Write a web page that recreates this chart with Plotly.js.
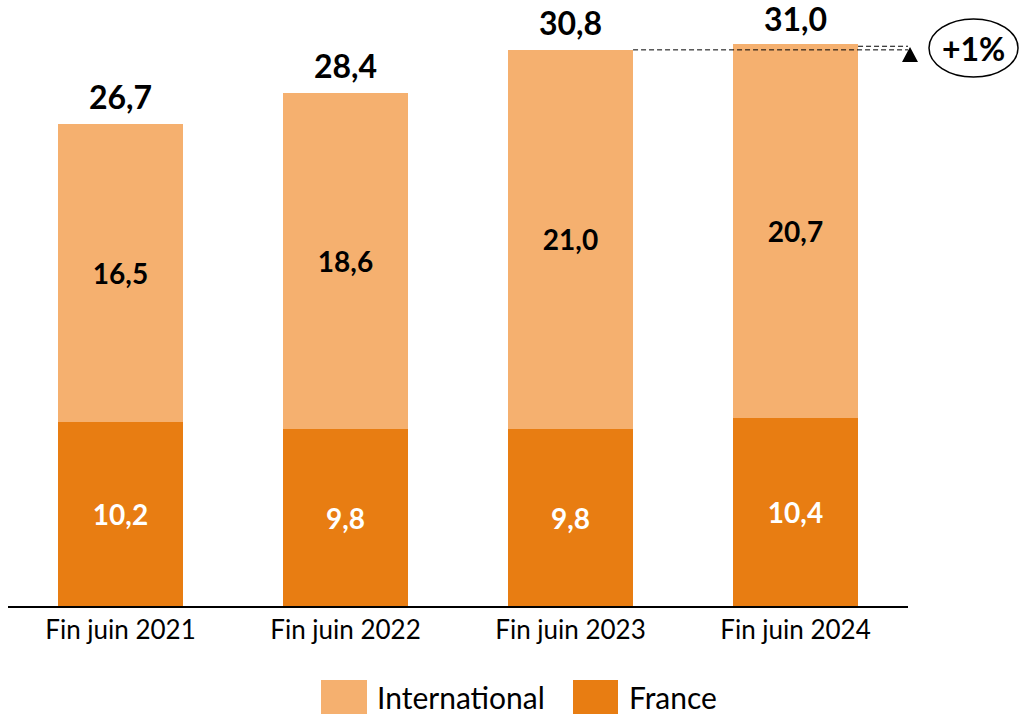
<!DOCTYPE html>
<html>
<head>
<meta charset="utf-8">
<script src="https://cdn.plot.ly/plotly-3.0.1.min.js"></script>
<style>
  html, body { margin: 0; padding: 0; background: #ffffff; }
  #chart { width: 1025px; height: 714px; }
</style>
</head>
<body>
<div id="chart"></div>
<script>
// Data
const categories = ['Fin juin 2021', 'Fin juin 2022', 'Fin juin 2023', 'Fin juin 2024'];
const france = [10.2, 9.8, 9.8, 10.4];
const international = [16.5, 18.6, 21.0, 20.7];
const totals = [26.7, 28.4, 30.8, 31.0];
const growthLabel = '+1%';

const FONT = 'Lato, "Open Sans", sans-serif';
const colFrance = '#E87D12';
const colIntl = '#F5B06F';

// paper coords helpers (plot area: x 8..908, y 30..606)
const px = v => (v - 8) / 900;
const py = v => (606 - v) / 576;

const franceTrace = {
  x: categories,
  y: france,
  name: 'France',
  type: 'bar',
  marker: { color: colFrance },
  texttemplate: '<b>%{y:.1f}</b>',
  textposition: 'inside',
  insidetextanchor: 'middle',
  constraintext: 'none',
  textfont: { family: FONT, size: 28, color: '#ffffff' },
  hoverinfo: 'skip'
};

const intlTrace = {
  x: categories,
  y: international,
  name: 'International',
  type: 'bar',
  marker: { color: colIntl },
  texttemplate: '<b>%{y:.1f}</b>',
  textposition: 'inside',
  insidetextanchor: 'middle',
  constraintext: 'none',
  textfont: { family: FONT, size: 28, color: '#000000' },
  hoverinfo: 'skip'
};

// Totals above each bar
const annotations = totals.map((t, i) => ({
  x: categories[i],
  y: t,
  xref: 'x',
  yref: 'y',
  text: '<b>' + t.toFixed(1).replace('.', ',') + '</b>',
  showarrow: false,
  yanchor: 'bottom',
  yshift: 6,
  font: { family: FONT, size: 32, color: '#000000' }
}));

// +1% bubble
annotations.push({
  x: px(974), y: py(48), xref: 'paper', yref: 'paper',
  xanchor: 'center', yanchor: 'middle',
  text: '<b>' + growthLabel + '</b>',
  showarrow: false,
  font: { family: FONT, size: 32, color: '#000000' }
});

// Legend (custom, large swatches)
annotations.push({
  x: px(375), y: py(697), xref: 'paper', yref: 'paper',
  xanchor: 'left', yanchor: 'middle', text: 'International', showarrow: false,
  font: { family: FONT, size: 30, color: '#000000' }
});
annotations.push({
  x: px(627), y: py(697), xref: 'paper', yref: 'paper',
  xanchor: 'left', yanchor: 'middle', text: 'France', showarrow: false,
  font: { family: FONT, size: 30, color: '#000000' }
});

const dashed = { color: '#000000', width: 1, dash: '5px,3px' };

const shapes = [
  // dashed guide from 2023 total to the right
  { type: 'line', xref: 'x', yref: 'y', x0: 2.278, x1: 3.55, y0: totals[2], y1: totals[2], line: dashed },
  // dashed guide from 2024 total to the right
  { type: 'line', xref: 'x', yref: 'y', x0: 3.278, x1: 3.55, y0: totals[3], y1: totals[3], line: dashed },
  // small upward triangle
  { type: 'path', xref: 'paper', yref: 'paper',
    path: 'M ' + px(902) + ' ' + py(62) + ' L ' + px(918) + ' ' + py(62) +
          ' L ' + px(910) + ' ' + py(47) + ' Z',
    fillcolor: '#000000', line: { width: 0 } },
  // ellipse round the growth label
  { type: 'circle', xref: 'paper', yref: 'paper',
    x0: px(929), x1: px(1018), y0: py(77), y1: py(19),
    line: { color: '#000000', width: 1.5 }, fillcolor: 'rgba(0,0,0,0)' },
  // legend swatches
  { type: 'rect', xref: 'paper', yref: 'paper',
    x0: px(321), x1: px(367), y0: py(714), y1: py(680),
    fillcolor: colIntl, line: { width: 0 } },
  { type: 'rect', xref: 'paper', yref: 'paper',
    x0: px(573), x1: px(618), y0: py(714), y1: py(680),
    fillcolor: colFrance, line: { width: 0 } }
];

const layout = {
  barmode: 'stack',
  bargap: 0.444,
  showlegend: false,
  separators: ', ',
  width: 1025,
  height: 714,
  margin: { l: 8, r: 117, t: 30, b: 108, autoexpand: false },
  paper_bgcolor: '#ffffff',
  plot_bgcolor: '#ffffff',
  font: { family: FONT, color: '#000000' },
  xaxis: {
    range: [-0.5, 3.5],
    showline: true,
    linecolor: '#000000',
    linewidth: 2,
    ticks: '',
    tickfont: { family: FONT, size: 26, color: '#000000' },
    showgrid: false,
    zeroline: false
  },
  yaxis: {
    range: [0, 31.9],
    visible: false,
    showgrid: false,
    zeroline: false
  },
  shapes: shapes,
  annotations: annotations
};

Plotly.newPlot('chart', [franceTrace, intlTrace], layout, { displayModeBar: false, staticPlot: true });
</script>
</body>
</html>
